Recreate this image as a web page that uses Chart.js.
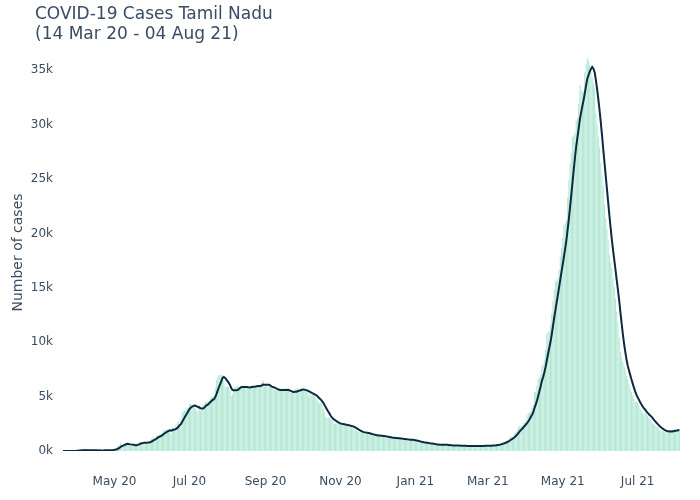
<!DOCTYPE html>
<html>
<head>
<meta charset="utf-8">
<script src="https://cdn.jsdelivr.net/npm/chart.js@4.4.1/dist/chart.umd.min.js"></script>
<style>
    html, body { margin: 0; padding: 0; background: #fff; }
    #wrap { position: relative; width: 700px; height: 500px; }
    #title {
        position: absolute; left: 35px; top: 3px;
        font: 17px "DejaVu Sans", sans-serif; line-height: 20px; color: #3a4b63;
        white-space: nowrap;
    }
</style>
</head>
<body>
<div id="wrap">
    <canvas id="chart" width="700" height="500"></canvas>
    <div id="title">COVID-19 Cases Tamil Nadu<br>(14 Mar 20 - 04 Aug 21)</div>
</div>
<script>
// daily new cases, one array per month (first day 14 Mar 2020)
const startDate = '2020-03-14';
const mar20 = [1, 0, 0, 0, 1, 0, 1, 0, 3, 3, 6, 3, 3, 5, 9, 8, 17, 57];
const apr20 = [110, 75, 102, 74, 86, 50, 69, 48, 96, 77, 106, 58, 98, 31, 38, 25, 56, 49, 105, 46, 76, 33, 54, 72, 66, 64, 52, 121, 104, 161];
const may20 = [203, 231, 266, 527, 508, 771, 580, 600, 526, 669, 798, 716, 509, 447, 434, 477, 639, 536, 688, 743, 776, 786, 759, 765, 805, 646, 817, 827, 874, 938, 1149];
const jun20 = [1162, 1286, 1091, 1384, 1438, 1458, 1515, 1562, 1685, 1927, 1875, 1989, 1982, 1974, 1843, 1515, 2174, 2141, 2115, 2396, 2532, 2710, 2516, 2865, 3509, 3645, 3713, 3940, 3949, 3943];
const jul20 = [4343, 4329, 4280, 4150, 4244, 3827, 3616, 3756, 4231, 3680, 3965, 4244, 4328, 4526, 4496, 4549, 4538, 4807, 4979, 4985, 4965, 5849, 6472, 6785, 6988, 6986, 6993, 6972, 6426, 5864, 5881];
const aug20 = [5879, 5875, 5609, 5063, 5175, 5684, 5880, 5883, 5994, 5914, 5834, 5871, 5835, 5890, 5860, 5950, 5890, 5709, 5795, 5986, 5995, 5980, 5975, 6023, 5951, 5958, 5981, 5996, 6352, 6495, 5956];
const sep20 = [5928, 5990, 5892, 5976, 5870, 5783, 5776, 5684, 5584, 5528, 5519, 5495, 5693, 5752, 5652, 5697, 5560, 5488, 5569, 5516, 5344, 5337, 5325, 5339, 5692, 5647, 5791, 5589, 5546, 5659];
const oct20 = [5688, 5622, 5595, 5489, 5395, 5017, 5447, 5122, 5185, 5242, 5015, 4879, 4666, 4462, 4389, 4410, 4295, 3914, 3536, 3094, 3086, 3077, 3057, 2886, 2869, 2708, 2522, 2516, 2513, 2511, 2481];
const nov20 = [2504, 2481, 2370, 2341, 2348, 2335, 2341, 2334, 2257, 2146, 2112, 2142, 1939, 1819, 1819, 1725, 1707, 1714, 1707, 1655, 1665, 1655, 1624, 1557, 1534, 1464, 1442, 1430, 1459, 1410];
const dec20 = [1404, 1391, 1416, 1347, 1366, 1348, 1312, 1236, 1265, 1234, 1220, 1220, 1195, 1200, 1195, 1164, 1146, 1134, 1130, 1122, 1087, 1071, 1085, 1052, 1041, 1027, 1019, 1019, 1005, 1003, 937];
const jan21 = [898, 862, 856, 820, 818, 786, 751, 730, 747, 701, 721, 671, 658, 653, 632, 610, 589, 551, 543, 569, 574, 573, 586, 597, 568, 540, 512, 529, 510, 509, 505];
const feb21 = [502, 498, 501, 494, 491, 478, 470, 473, 474, 471, 456, 464, 457, 466, 467, 455, 446, 455, 448, 453, 458, 467, 473, 473, 479, 477, 486, 481];
const mar21 = [489, 494, 516, 481, 521, 543, 562, 567, 604, 625, 671, 759, 784, 836, 867, 945, 989, 1087, 1243, 1385, 1289, 1385, 1636, 1779, 1971, 2194, 2342, 2279, 2134, 2577, 2579];
const apr21 = [2817, 3290, 3446, 3581, 3645, 3986, 4276, 5441, 5441, 5989, 6618, 6711, 6984, 7819, 7987, 8449, 9344, 10723, 10941, 10986, 11681, 12652, 13776, 14842, 15659, 15684, 15830, 16665, 17897, 18692];
const may21 = [19588, 20768, 20952, 21228, 23310, 24898, 26465, 27397, 28897, 28978, 29272, 30355, 30621, 31892, 33658, 33181, 33075, 33059, 34875, 35579, 36184, 35873, 35483, 34867, 34285, 33764, 33361, 31079, 30016, 28864, 27936];
const jun21 = [26513, 25317, 24405, 22651, 21410, 20421, 19448, 18023, 17321, 16813, 15759, 15108, 14016, 12772, 11805, 10448, 9118, 8633, 8183, 7817, 7427, 6895, 6596, 6162, 5755, 5415, 5127, 4808, 4512, 4506];
const jul21 = [4481, 4230, 3867, 3715, 3479, 3367, 3592, 3405, 3211, 3039, 2913, 2775, 2542, 2505, 2405, 2312, 2205, 2079, 1904, 1891, 1830, 1830, 1785, 1819, 1808, 1767, 1767, 1859, 1756, 1947, 1986];
const aug21 = [1990, 1908, 1957, 1949];

const xTickDates = ['2020-05-01', '2020-07-01', '2020-09-01', '2020-11-01', '2021-01-01', '2021-03-01', '2021-05-01', '2021-07-01'];
const xTickText = ['May 20', 'Jul 20', 'Sep 20', 'Nov 20', 'Jan 21', 'Mar 21', 'May 21', 'Jul 21'];
const yTicks = [0, 5000, 10000, 15000, 20000, 25000, 30000, 35000];

const dailyCases = [].concat(mar20, apr20, may20, jun20, jul20, aug20, sep20, oct20,
    nov20, dec20, jan21, feb21, mar21, apr21, may21, jun21, jul21, aug21);

const dates = dailyCases.map((_, i) => {
    const d = new Date(startDate + 'T00:00:00Z');
    d.setUTCDate(d.getUTCDate() + i);
    return d.toISOString().slice(0, 10);
});

// 7 day trailing mean, like the line in the original
const rolling7 = dailyCases.map((_, i) => {
    if (i < 6) {
        return null;
    }
    const win = dailyCases.slice(i - 6, i + 1);
    return win.reduce((a, b) => a + b, 0) / 7;
});

const tickFont = { family: '"DejaVu Sans", sans-serif', size: 12 };
const textColor = '#3a4b63';

new Chart(document.getElementById('chart'), {
    type: 'bar',
    data: {
        labels: dates,
        datasets: [
            {
                type: 'line',
                label: '7 day average',
                data: rolling7,
                borderColor: '#0c2a40',
                borderWidth: 2,
                pointRadius: 0,
                tension: 0,
                spanGaps: false,
                order: 0,
            },
            {
                label: 'Daily cases',
                data: dailyCases,
                backgroundColor: '#b2e7d4',
                borderWidth: 0,
                barPercentage: 0.85,
                categoryPercentage: 1,
                order: 1,
            },
        ],
    },
    options: {
        responsive: false,
        animation: false,
        devicePixelRatio: 1,
        layout: { padding: { top: 54, right: 20, left: 0, bottom: 0 } },
        plugins: {
            legend: { display: false },
            tooltip: { enabled: false },
        },
        scales: {
            x: {
                offset: true,
                grid: { display: false, drawTicks: false },
                border: { display: false },
                afterBuildTicks: (scale) => {
                    scale.ticks = xTickDates.map((d) => ({ value: dates.indexOf(d) }));
                },
                afterFit: (scale) => { scale.height = 49; },
                ticks: {
                    autoSkip: false,
                    maxRotation: 0,
                    minRotation: 0,
                    padding: 24,
                    color: textColor,
                    font: tickFont,
                    callback: (value, index) => xTickText[index],
                },
            },
            y: {
                min: 0,
                max: 36500,
                grid: { display: false, drawTicks: false },
                border: { display: false },
                afterBuildTicks: (scale) => {
                    scale.ticks = yTicks.map((v) => ({ value: v }));
                },
                afterFit: (scale) => { scale.width = 55; },
                ticks: {
                    padding: 2,
                    color: textColor,
                    font: tickFont,
                    callback: (v) => (v / 1000) + 'k',
                },
                title: {
                    display: true,
                    text: 'Number of cases',
                    color: textColor,
                    font: { family: '"DejaVu Sans", sans-serif', size: 14 },
                    padding: { top: 10, bottom: 0 },
                },
            },
        },
    },
});
</script>
</body>
</html>
